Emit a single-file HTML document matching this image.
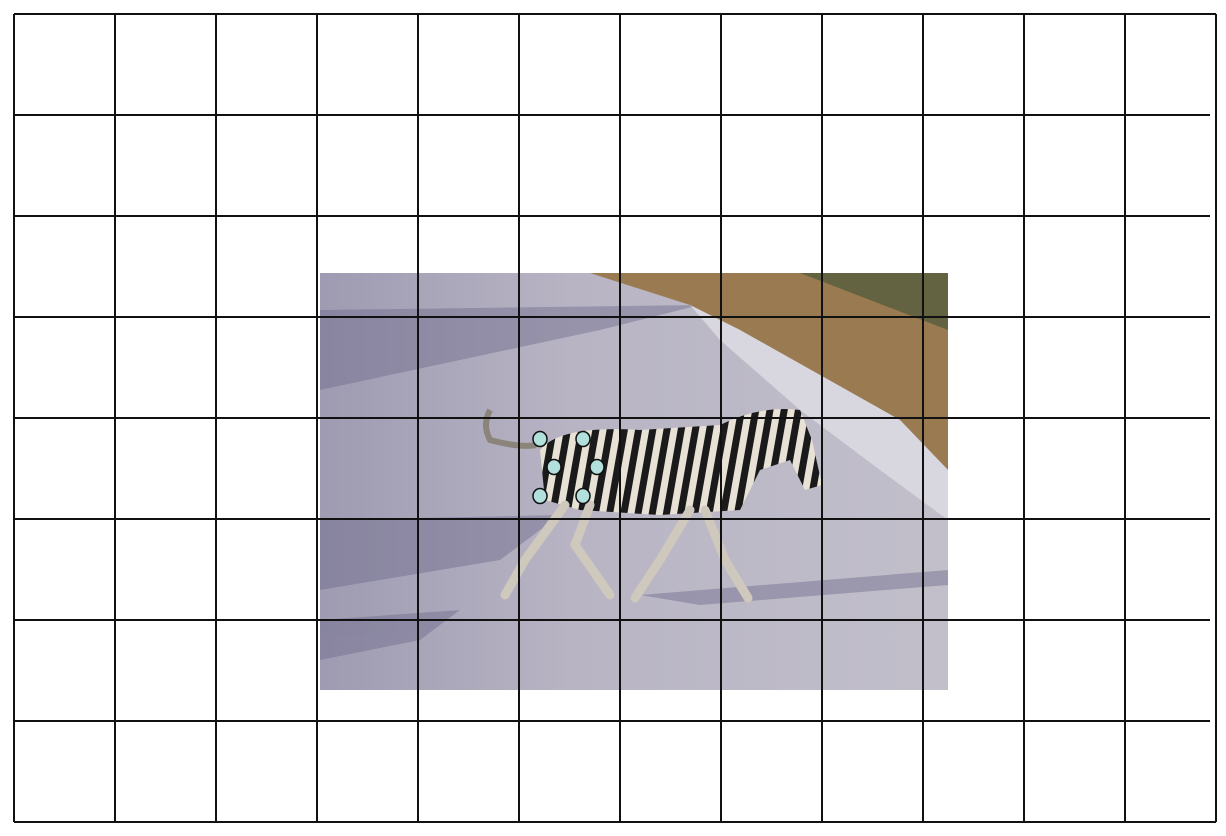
<!DOCTYPE html>
<html><head><meta charset="utf-8"><style>
html,body{margin:0;padding:0;background:#fff;}
svg{display:block;font-family:"Liberation Sans",sans-serif;}
</style></head><body>
<svg id="chart" width="1226" height="836" viewBox="0 0 1226 836">
<defs>
<pattern id="stripes" width="14" height="14" patternUnits="userSpaceOnUse" patternTransform="rotate(10)">
<rect width="14" height="14" fill="#e8e2d6"/><rect width="7" height="14" fill="#1a1a1a"/>
</pattern>
<linearGradient id="road" x1="0" y1="0" x2="1" y2="0">
<stop offset="0" stop-color="#9e9bb2"/><stop offset="0.4" stop-color="#b8b4c4"/><stop offset="1" stop-color="#c2bfcb"/>
</linearGradient>
</defs>
<g>
<rect x="320" y="273" width="628" height="417" fill="url(#road)"/>
<g fill="#6e6a8c" opacity="0.45">
<polygon points="320,310 700,305 600,330 320,390"/>
<polygon points="320,520 560,515 500,560 320,590"/>
<polygon points="320,620 460,610 420,640 320,660"/>
<polygon points="640,595 948,570 948,585 700,605"/>
</g>
<polygon points="590,273 948,273 948,470 900,420 820,375 740,330 690,305" fill="#9a7a50"/>
<polygon points="800,273 948,273 948,330 870,300" fill="#4d5a3a" opacity="0.7"/>
<polygon points="690,305 740,330 820,375 900,420 948,470 948,520 880,470 800,410 720,340" fill="#d8d6de"/>
<g>
<path d="M536,445 Q520,448 490,440 Q482,425 490,410" stroke="#8a847a" stroke-width="6" fill="none"/>
<path d="M540,450 Q560,425 640,430 L720,425 Q760,405 800,410 L812,440 L822,485 L805,490 L790,460 L760,470 L740,510 L660,515 L580,510 L545,500 Z" fill="url(#stripes)"/>
<g stroke="#cfc8bc" stroke-width="9" stroke-linecap="round" fill="none">
<path d="M565,505 L525,560 L505,595"/>
<path d="M590,505 L575,545 L610,595"/>
<path d="M690,510 L660,560 L635,598"/>
<path d="M705,510 L725,560 L748,598"/>
</g>
</g>
</g>
<g id="grid" stroke="#111" stroke-width="2"></g>
<g id="dots"></g>
</svg>
<script>
const vLines=[14,115,216,317,418,519,620,721,822,923,1024,1125,1216];
const hLines=[14,115,216,317,418,519,620,721,822];
const dotX=[540,583,554,597,540,583];
const dotY=[439,439,467,467,496,496];
const ns='http://www.w3.org/2000/svg';
const g=document.getElementById('grid');
vLines.forEach((x,i)=>{const l=document.createElementNS(ns,'line');
l.setAttribute('x1',x);l.setAttribute('x2',x);l.setAttribute('y1',14);l.setAttribute('y2',822);


g.appendChild(l);});
hLines.forEach((y,i)=>{const l=document.createElementNS(ns,'line');
l.setAttribute('x1',14);l.setAttribute('x2',(i===0||i===hLines.length-1)?1216:1210);l.setAttribute('y1',y);l.setAttribute('y2',y);


g.appendChild(l);});
const d=document.getElementById('dots');
dotX.forEach((x,i)=>{const c=document.createElementNS(ns,'ellipse');
c.setAttribute('cx',x);c.setAttribute('cy',dotY[i]);c.setAttribute('rx',7);c.setAttribute('ry',7.5);
c.setAttribute('fill','#b2e0dc');c.setAttribute('stroke','#111');c.setAttribute('stroke-width','1.5');


d.appendChild(c);});
</script>
</body></html>
